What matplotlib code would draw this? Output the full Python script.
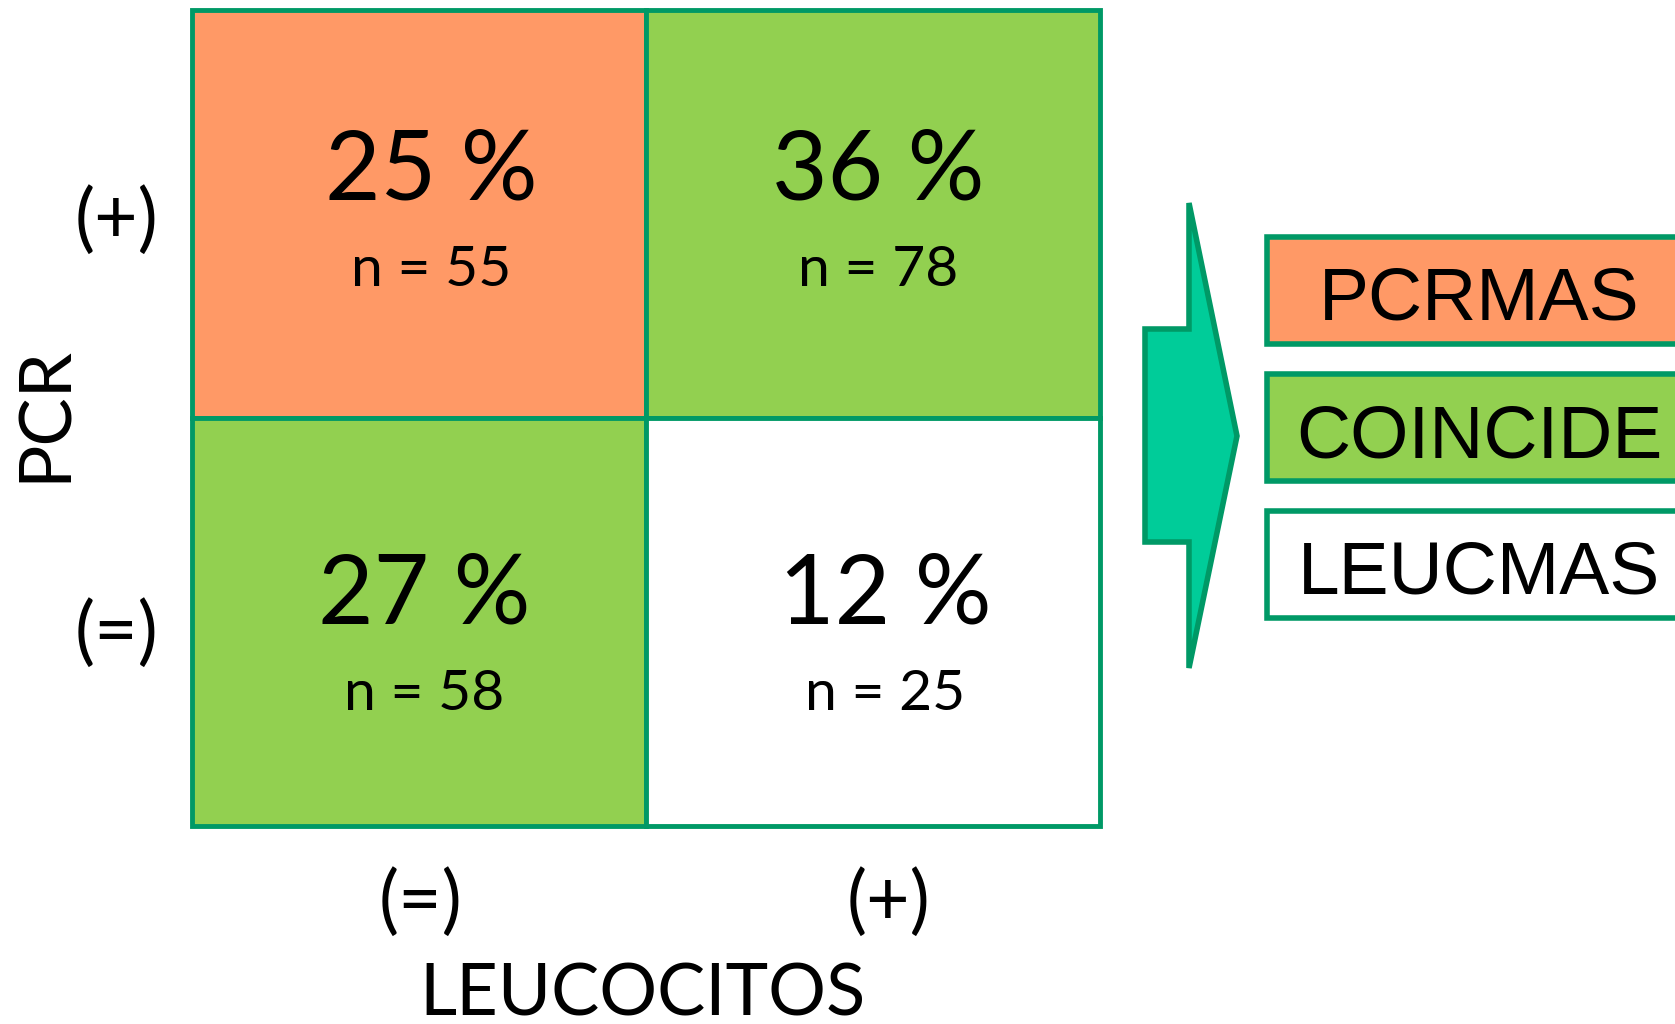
import matplotlib.pyplot as plt
from matplotlib.patches import Rectangle, Polygon

# 2x2 table: rows = PCR (+), (=); columns = LEUCOCITOS (=), (+)
row_labels = ['(+)', '(=)']
col_labels = ['(=)', '(+)']
percents = [[25, 36], [27, 12]]
counts = [[55, 78], [58, 25]]
cell_class = [['PCRMAS', 'COINCIDE'], ['COINCIDE', 'LEUCMAS']]

legend_names = ['PCRMAS', 'COINCIDE', 'LEUCMAS']
legend_colors = {'PCRMAS': '#FF9966', 'COINCIDE': '#92D050', 'LEUCMAS': '#FFFFFF'}
edge = '#009966'

W, H = 1675, 1024
fig = plt.figure(figsize=(W / 100, H / 100), dpi=100)
ax = fig.add_axes([0, 0, 1, 1])
ax.set_xlim(0, W)
ax.set_ylim(H, 0)
ax.axis('off')

font = ['Lato', 'DejaVu Sans']

# grid geometry (pixels)
gx0, gx1 = 192, 1100
gy0, gy1 = 10, 826
cw = (gx1 - gx0) / 2
ch = (gy1 - gy0) / 2

# small text nudges inside each cell
dx = [[12, 5], [5, 12]]
pct_base = [190, 205]
n_base = [276, 292]

for r in range(2):
    for c in range(2):
        x = gx0 + c * cw
        y = gy0 + r * ch
        ax.add_patch(Rectangle((x, y), cw, ch, facecolor=legend_colors[cell_class[r][c]],
                               edgecolor=edge, lw=3.5))
        cx = x + cw / 2 + dx[r][c]
        ax.text(cx, y + pct_base[r], f'{percents[r][c]} %', ha='center', va='baseline',
                fontsize=69, family=font)
        ax.text(cx, y + n_base[r], f'n = {counts[r][c]}', ha='center', va='baseline',
                fontsize=41, family=font)

# row labels
for r, lab in enumerate(row_labels):
    ax.text(117, gy0 + r * ch + 211 + r * 5, lab, ha='center', va='center',
            fontsize=54, family=font)
ax.text(45, 414, 'PCR', ha='center', va='center', rotation=90, fontsize=52, family=font)

# column labels
for c, lab in enumerate(col_labels):
    ax.text(gx0 + c * cw + 228 + c * 14, 903, lab, ha='center', va='center',
            fontsize=54, family=font)
ax.text(642, 1015, 'LEUCOCITOS', ha='center', va='baseline', fontsize=52, family=font)

# arrow
arrow = Polygon([(1145, 329), (1189, 329), (1189, 203), (1237, 436), (1189, 668),
                 (1189, 542), (1145, 542)], closed=True, facecolor='#00CC99',
                edgecolor=edge, lw=4)
ax.add_patch(arrow)

# legend boxes
lx = 1267
box_tops = [237, 374, 511]
box_h = 107
for name, top in zip(legend_names, box_tops):
    ax.add_patch(Rectangle((lx, top), 500, box_h, facecolor=legend_colors[name],
                           edgecolor=edge, lw=4))
    ax.text(1479, top + 83, name, ha='center', va='baseline', fontsize=54,
            family='Liberation Sans')

fig.savefig('out.png', dpi=100)
